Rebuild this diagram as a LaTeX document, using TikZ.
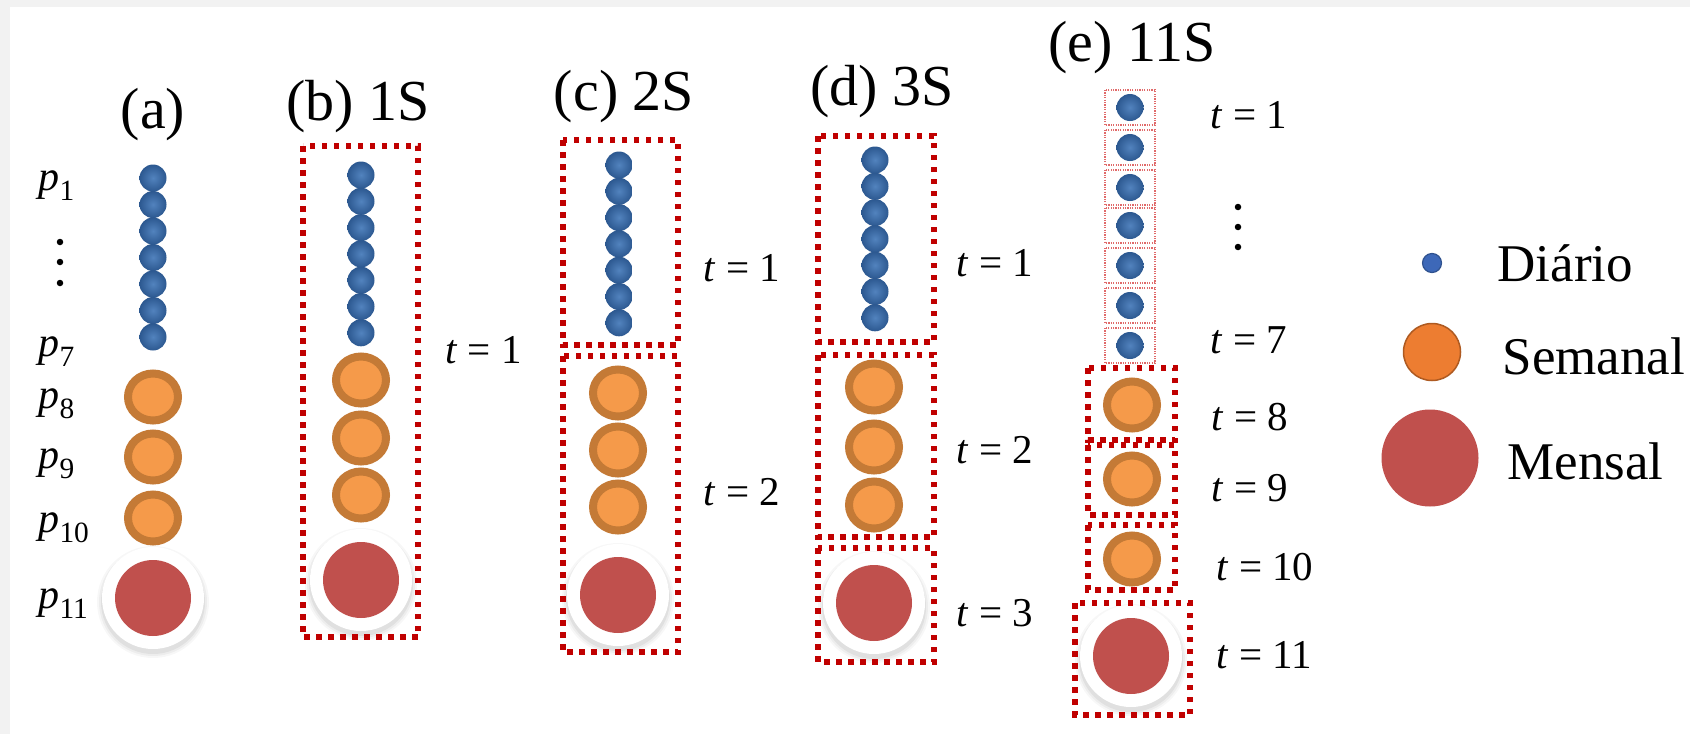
\documentclass[tikz,border=0pt]{standalone}
\usepackage{fontspec}
\setmainfont{Liberation Serif}
\usetikzlibrary{shapes.geometric}
\definecolor{bluedot}{HTML}{2C5890}
\definecolor{bluein}{HTML}{5283BE}
\definecolor{oring}{HTML}{C47A36}
\definecolor{ofill}{HTML}{F59A4A}
\definecolor{redc}{HTML}{C0504D}
\definecolor{boxred}{HTML}{C00000}
\definecolor{thinred}{HTML}{E06A6A}
\definecolor{legblue}{HTML}{3D68B8}
\definecolor{legblueb}{HTML}{2F528F}
\definecolor{legor}{HTML}{ED7D31}
\definecolor{legorb}{HTML}{AE5A21}
\definecolor{edgegray}{HTML}{F2F2F2}
\newcommand{\redhalo}[2]{%
  \foreach \rr/\oo in {56/0.03,54/0.04,52/0.05}
    \fill[black,opacity=\oo] (#1,#2+4) circle (\rr pt);
  \fill[white] (#1,#2) circle (51pt);
}
\begin{document}
\begin{tikzpicture}[x=1pt,y=-1pt,
  bdot/.style={circle,inner sep=0pt,minimum size=27pt,shading=radial,inner color=bluein,outer color=bluedot},
  odot/.style={ellipse,inner sep=0pt,minimum width=50pt,minimum height=47pt,draw=oring,line width=8pt,fill=ofill},
  rdot/.style={circle,inner sep=0pt,minimum size=76pt,fill=redc},
  gbox/.style={draw=boxred,line width=5.5pt,dash pattern=on 5.5pt off 6.5pt},
  tbox/.style={draw=thinred,line width=1.1pt,dash pattern=on 1.2pt off 1.2pt},
  ttl/.style={font=\fontsize{58}{60}\selectfont},
  lbl/.style={font=\fontsize{41}{44}\selectfont,anchor=west},
  plbl/.style={font=\fontsize{42}{44}\selectfont,anchor=base west},
  leg/.style={font=\fontsize{53}{56}\selectfont,anchor=west},
  vdot/.style={circle,fill=black,inner sep=0pt,minimum size=6.5pt}]
\useasboundingbox (0,0) rectangle (1690,734);
\fill[white] (0,0) rectangle (1690,734);
\fill[edgegray] (0,0) rectangle (10,734);
\fill[edgegray] (0,0) rectangle (1690,7);

% ---------- (a) ----------
\node[ttl] (ta) at (153,115) {(a)};
\foreach \i in {1,...,7} \node[bdot] (a-b\i) at (153,{178+(\i-1)*26.5}) {};
\node[odot] (a-o1) at (153,397) {};
\node[odot] (a-o2) at (153,457) {};
\node[odot] (a-o3) at (153,518) {};
\redhalo{153}{598}
\node[rdot] (a-r) at (153,598) {};
\node[plbl] (a-p1) at (35,190) {\textit{p}\textsubscript{1}};
\node[vdot] (a-v1) at (60,242) {};
\node[vdot] (a-v2) at (60,262) {};
\node[vdot] (a-v3) at (60,283) {};
\node[plbl] (a-p7) at (35,356) {\textit{p}\textsubscript{7}};
\node[plbl] (a-p8) at (35,408) {\textit{p}\textsubscript{8}};
\node[plbl] (a-p9) at (35,468) {\textit{p}\textsubscript{9}};
\node[plbl] (a-p10) at (35,532) {\textit{p}\textsubscript{10}};
\node[plbl] (a-p11) at (35,608) {\textit{p}\textsubscript{11}};

% ---------- (b) ----------
\node[ttl] (tb) at (358,107) {(b) 1S};
\foreach \i in {1,...,7} \node[bdot] (b-b\i) at (361,{175+(\i-1)*26.3}) {};
\node[odot] (b-o1) at (361,380) {};
\node[odot] (b-o2) at (361,438) {};
\node[odot] (b-o3) at (361,495) {};
\redhalo{361}{580}
\node[rdot] (b-r) at (361,580) {};
\draw[gbox] (303,146) rectangle (418,637);
\node[lbl] (b-t1) at (442,350) {\textit{t} = 1};

% ---------- (c) ----------
\node[ttl] (tc) at (624,97) {(c) 2S};
\foreach \i in {1,...,7} \node[bdot] (c-b\i) at (619,{165+(\i-1)*26.3}) {};
\node[odot] (c-o1) at (618,393) {};
\node[odot] (c-o2) at (618,450) {};
\node[odot] (c-o3) at (618,507) {};
\redhalo{618}{595}
\node[rdot] (c-r) at (618,595) {};
\draw[gbox] (563,140) rectangle (678,345);
\draw[gbox] (563,356) rectangle (678,652);
\node[lbl] (c-t1) at (700,268) {\textit{t} = 1};
\node[lbl] (c-t2) at (700,492) {\textit{t} = 2};

% ---------- (d) ----------
\node[ttl] (td) at (882,92) {(d) 3S};
\foreach \i in {1,...,7} \node[bdot] (d-b\i) at (875,{160+(\i-1)*26.3}) {};
\node[odot] (d-o1) at (874,387) {};
\node[odot] (d-o2) at (874,447) {};
\node[odot] (d-o3) at (874,505) {};
\redhalo{874}{603}
\node[rdot] (d-r) at (874,603) {};
\draw[gbox] (818,136) rectangle (934,342);
\draw[gbox] (818,355) rectangle (934,537);
\draw[gbox] (818,548) rectangle (934,662);
\node[lbl] (d-t1) at (953,263) {\textit{t} = 1};
\node[lbl] (d-t2) at (953,450) {\textit{t} = 2};
\node[lbl] (d-t3) at (953,613) {\textit{t} = 3};

% ---------- (e) ----------
\node[ttl] (te) at (1132,48) {(e) 11S};
\foreach \i/\yy in {1/90,2/130,3/170,4/208,5/248,6/288,7/328} {
  \draw[tbox] (1105,\yy) rectangle (1155,\yy+35);
  \node[bdot] (e-b\i) at (1130,\yy+17.5) {};
}
\node[odot] (e-o1) at (1132,405) {};
\node[odot] (e-o2) at (1132,479) {};
\node[odot] (e-o3) at (1132,559) {};
\redhalo{1131}{656}
\node[rdot] (e-r) at (1131,656) {};
\draw[gbox] (1088,368) rectangle (1175,440);
\draw[gbox] (1088,445) rectangle (1175,515);
\draw[gbox] (1088,525) rectangle (1175,590);
\draw[gbox] (1075,603) rectangle (1190,715);
\node[lbl] (e-t1) at (1207,115) {\textit{t} = 1};
\node[vdot] (e-v1) at (1238,207) {};
\node[vdot] (e-v2) at (1238,227) {};
\node[vdot] (e-v3) at (1238,247) {};
\node[lbl] (e-t7) at (1207,340) {\textit{t} = 7};
\node[lbl] (e-t8) at (1208,417) {\textit{t} = 8};
\node[lbl] (e-t9) at (1208,488) {\textit{t} = 9};
\node[lbl] (e-t10) at (1213,567) {\textit{t} = 10};
\node[lbl] (e-t11) at (1213,655) {\textit{t} = 11};

% ---------- legend ----------
\node[circle,inner sep=0pt,minimum size=19pt,fill=legblue,draw=legblueb,line width=1.2pt] (l-b) at (1432,263) {};
\node[circle,inner sep=0pt,minimum size=57pt,fill=legor,draw=legorb,line width=1.5pt] (l-o) at (1432,352) {};
\node[circle,inner sep=0pt,minimum size=97pt,fill=redc] (l-r) at (1430,458) {};
\node[leg] (l-bt) at (1494,263) {Diário};
\node[leg] (l-ot) at (1499,356) {Semanal};
\node[leg] (l-rt) at (1504,461) {Mensal};
\end{tikzpicture}
\end{document}
